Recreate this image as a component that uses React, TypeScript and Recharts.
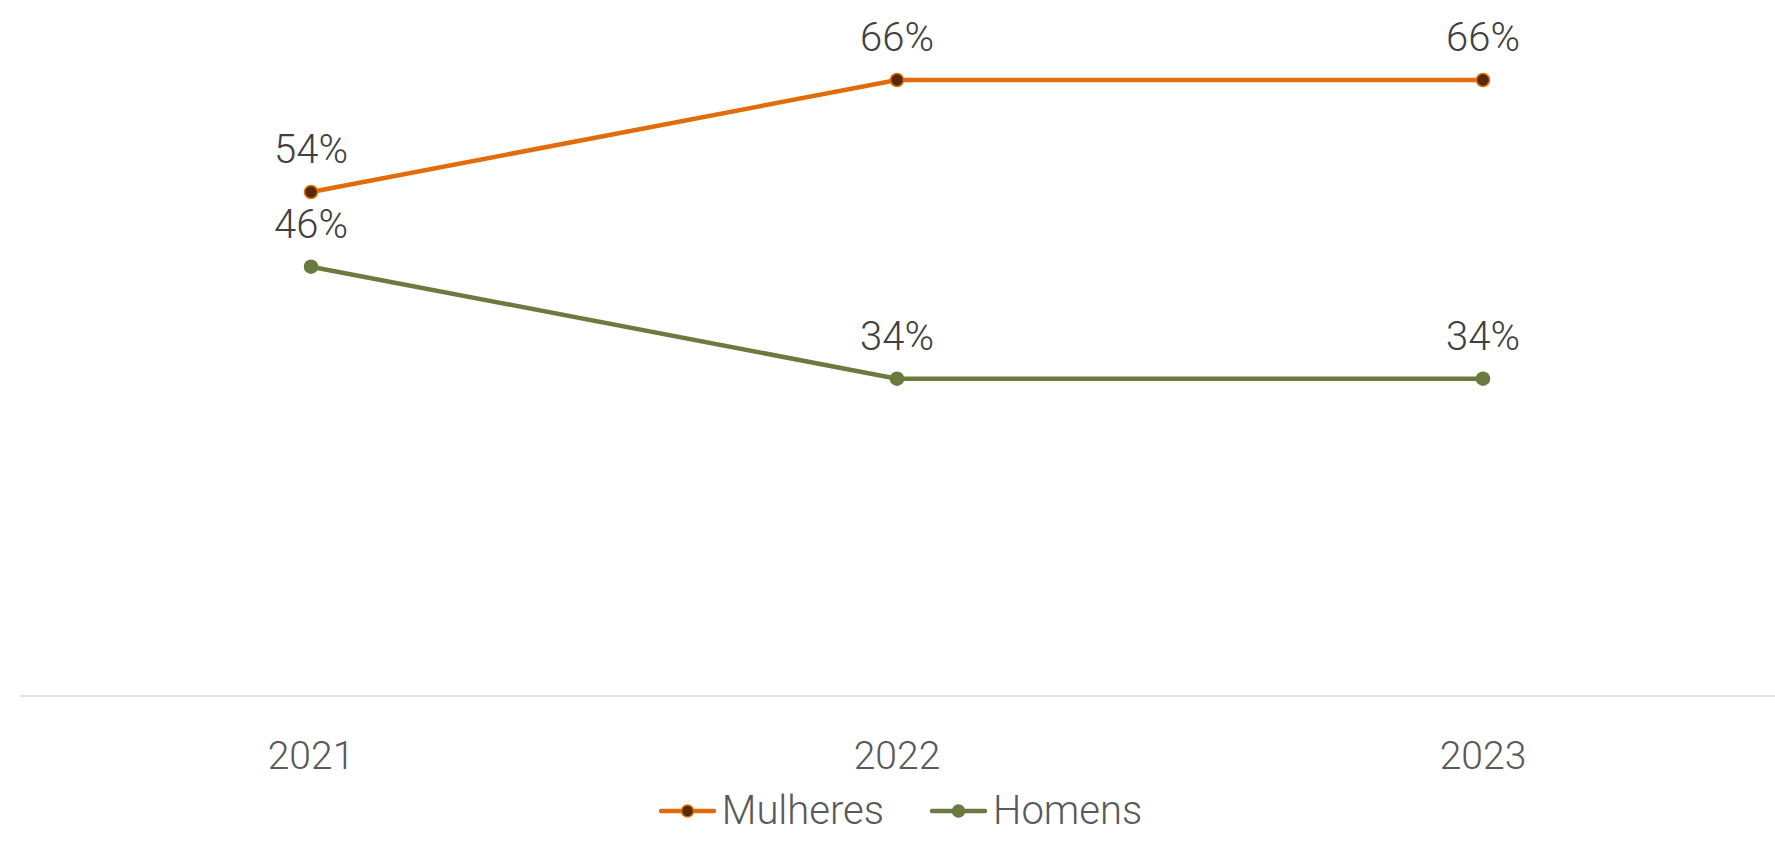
import React from 'react';
import { LineChart, Line, XAxis, YAxis, Legend, LabelList } from 'recharts';

const years = ['2021', '2022', '2023'];
const mulheres = [0.54, 0.66, 0.66];
const homens = [0.46, 0.34, 0.34];

const seriesNames = ['Mulheres', 'Homens'];
const lineColors = ['#E36C0A', '#6B7A3F'];
const dotFills = ['#582A04', '#6B7A3F'];

const data = years.map((y, i) => ({ year: y, Mulheres: mulheres[i], Homens: homens[i] }));

const FONT = 'Roboto, "Noto Sans", sans-serif';

const fmt = (v: any) => `${Math.round(Number(v) * 100)}%`;

const LegendContent = () => (
  <div style={{ display: 'flex', justifyContent: 'center', alignItems: 'center', fontFamily: FONT, paddingLeft: 26 }}>
    {seriesNames.map((n, i) => (
      <div key={n} style={{ display: 'flex', alignItems: 'center', marginRight: i === 0 ? 46 : 0 }}>
        <svg width={57} height={20} style={{ marginRight: 6 }}>
          <line x1={2} y1={10} x2={55} y2={10} stroke={lineColors[i]} strokeWidth={4.5} strokeLinecap="round" />
          <circle cx={28.5} cy={10} r={6} fill={dotFills[i]} stroke={lineColors[i]} strokeWidth={1.5} />
        </svg>
        <span style={{ fontSize: 40, fontWeight: 300, color: '#595959', lineHeight: '46px' }}>{n}</span>
      </div>
    ))}
  </div>
);

export default function App() {
  return (
    <div style={{ position: 'absolute', left: 0, top: 0, width: 1775, height: 844, background: '#fff' }}>
      <LineChart width={1775} height={844} data={data} margin={{ top: 24, right: 0, left: 20, bottom: 48 }}>
        <XAxis
          dataKey="year"
          padding={{ left: 291, right: 292 }}
          axisLine={{ stroke: '#D9D9D9', strokeWidth: 1.5 }}
          tickLine={false}
          tickMargin={39}
          height={100}
          tick={{ fill: '#595959', fontSize: 39, fontWeight: 300, fontFamily: FONT }}
        />
        <YAxis hide domain={[0, 0.72]} />
        <Legend
          layout="horizontal"
          verticalAlign="middle"
          align="center"
          content={<LegendContent />}
          wrapperStyle={{ top: 788, left: 0, width: 1775 }}
        />
        {seriesNames.map((n, i) => (
          <Line
            key={n}
            dataKey={n}
            type="linear"
            stroke={lineColors[i]}
            strokeWidth={4.5}
            isAnimationActive={false}
            dot={{ r: 6.5, fill: dotFills[i], stroke: lineColors[i], strokeWidth: 1.5 }}
            activeDot={false}
          >
            <LabelList
              dataKey={n}
              position="top"
              offset={29}
              formatter={fmt}
              style={{ fill: '#404040', fontSize: 40, fontWeight: 300, fontFamily: FONT }}
            />
          </Line>
        ))}
      </LineChart>
    </div>
  );
}
